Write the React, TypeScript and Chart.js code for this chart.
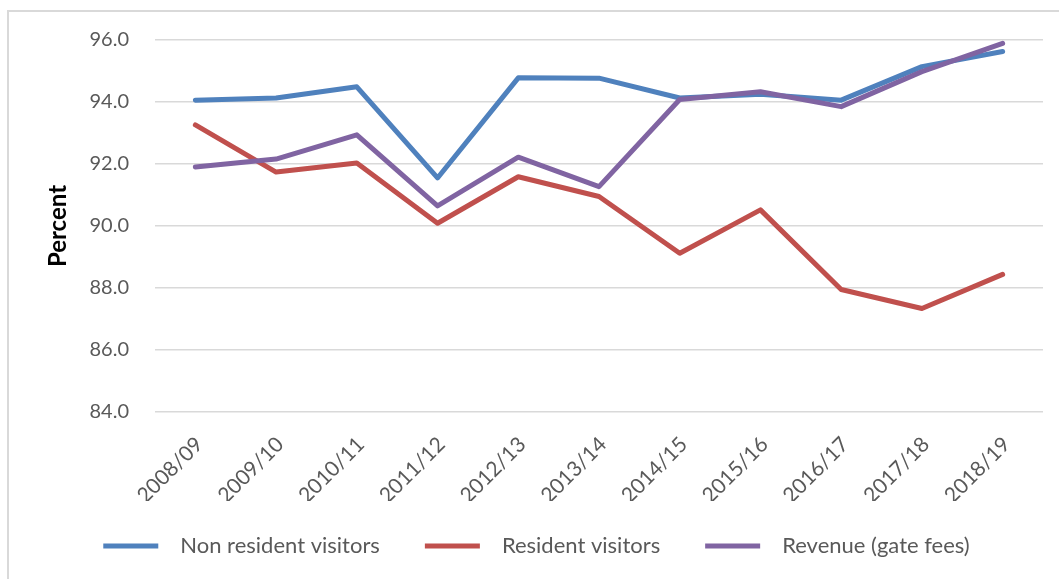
import React, { useEffect, useRef } from "react";
import { Chart, registerables } from "chart.js";

Chart.register(...registerables);

const years = ["2008/09", "2009/10", "2010/11", "2011/12", "2012/13", "2013/14", "2014/15", "2015/16", "2016/17", "2017/18", "2018/19"];
const nonResident = [94.06, 94.13, 94.49, 91.55, 94.78, 94.77, 94.13, 94.25, 94.06, 95.14, 95.63];
const resident = [93.26, 91.74, 92.03, 90.09, 91.59, 90.95, 89.12, 90.52, 87.95, 87.34, 88.44];
const revenue = [91.9, 92.16, 92.94, 90.65, 92.22, 91.27, 94.08, 94.33, 93.85, 94.98, 95.89];
const seriesNames = ["Non resident visitors", "Resident visitors", "Revenue (gate fees)"];
const seriesColors = ["#4f81bd", "#c0504d", "#8064a2"];
const yMin = 84;
const yMax = 96;
const yStep = 2;

const FONT = "Lato, 'Open Sans', sans-serif";

export default function App() {
  const ref = useRef<HTMLCanvasElement | null>(null);

  useEffect(() => {
    if (!ref.current) return;
    const values = [nonResident, resident, revenue];
    const orders = [1, 2, 0];
    const chart = new Chart(ref.current, {
      type: "line",
      data: {
        labels: years,
        datasets: values.map((v, i) => ({
          label: seriesNames[i],
          data: v,
          borderColor: seriesColors[i],
          backgroundColor: seriesColors[i],
          borderWidth: 5,
          borderCapStyle: "round",
          borderJoinStyle: "round",
          pointRadius: 0,
          pointHoverRadius: 0,
          tension: 0,
          fill: false,
          order: orders[i],
        })),
      },
      options: {
        animation: false,
        responsive: false,
        maintainAspectRatio: false,
        layout: { padding: { left: 32, right: 16, top: 28, bottom: 12 } },
        plugins: {
          tooltip: { enabled: false },
          legend: {
            position: "bottom",
            labels: {
              usePointStyle: true,
              pointStyle: "line",
              pointStyleWidth: 55,
              boxHeight: 20,
              padding: 34,
              color: "#595959",
              font: { family: FONT, size: 22 },
              sort: (a: any, b: any) => a.datasetIndex - b.datasetIndex,
              generateLabels: (chart: any) => {
                const items = Chart.defaults.plugins.legend.labels.generateLabels(chart);
                return items.map((it: any) => ({ ...it, text: "\u2002" + it.text + "\u2002" }));
              },
            },
          },
        },
        scales: {
          x: {
            offset: true,
            grid: { display: false, drawTicks: false },
            border: { display: false },
            ticks: {
              minRotation: 45,
              maxRotation: 45,
              autoSkip: false,
              padding: 20,
              labelOffset: 4,
              color: "#595959",
              font: { family: FONT, size: 21 },
            },
            afterFit: (s: any) => {
              s.height = 89;
            },
          },
          y: {
            min: yMin,
            max: yMax,
            grid: { color: "#d9d9d9", lineWidth: 1.5, drawTicks: false },
            border: { display: false },
            ticks: {
              stepSize: yStep,
              padding: 26,
              color: "#595959",
              font: { family: FONT, size: 20 },
              callback: (v: any) => Number(v).toFixed(1),
            },
            title: {
              display: true,
              text: "Percent",
              color: "#000000",
              font: { family: FONT, size: 24, weight: "bold" },
              padding: { top: 3, bottom: 0 },
            },
            afterFit: (s: any) => {
              s.width = 114;
              s.paddingTop = 10;
              s.paddingBottom = 10;
            },
          },
        },
      },
    });
    return () => chart.destroy();
  }, []);

  return (
    <div
      style={{
        position: "absolute",
        left: 7,
        top: 10,
        width: 1050,
        height: 567,
        borderTop: "2px solid #d9d9d9",
        borderLeft: "2px solid #d9d9d9",
        background: "#fff",
      }}
    >
      <canvas ref={ref} width={1050} height={567} style={{ display: "block" }} />
    </div>
  );
}
